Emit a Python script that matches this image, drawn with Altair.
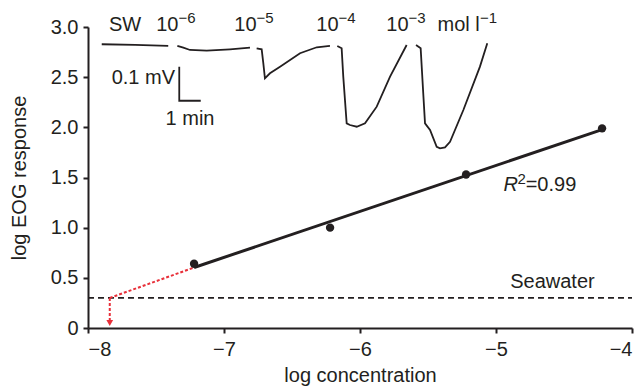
import altair as alt
import pandas as pd
import numpy as np

# ---- data ----
log_conc = [-7.22, -6.22, -5.22, -4.22]
log_eog = [0.64, 1.00, 1.53, 1.99]
seawater_level = 0.3
threshold_log_conc = -7.84

# EOG trace inset, drawn in chart coordinates, 5 segments
trace_seg = [1, 1, 1,
             2, 2, 2, 2, 2, 2,
             3, 3, 3, 3, 3, 3, 3, 3, 3,
             4, 4, 4, 4, 4, 4, 4, 4, 4, 4,
             5, 5, 5, 5, 5, 5, 5, 5, 5, 5, 5, 5]
trace_x = [-7.899, -7.654, -7.410,
           -7.343, -7.299, -7.250, -7.127, -6.956, -6.809,
           -6.760, -6.723, -6.711, -6.699, -6.662, -6.588, -6.441, -6.318, -6.221,
           -6.167, -6.135, -6.123, -6.098, -6.074, -6.024, -5.963, -5.877, -5.779, -5.657,
           -5.588, -5.554, -5.535, -5.522, -5.485, -5.436, -5.412, -5.375, -5.338, -5.240, -5.118, -5.064]
trace_y = [2.828, 2.821, 2.811,
           2.811, 2.794, 2.771, 2.764, 2.778, 2.794,
           2.788, 2.778, 2.639, 2.489, 2.539, 2.605, 2.739, 2.798, 2.811,
           2.811, 2.788, 2.505, 2.040, 2.023, 2.006, 2.040, 2.206, 2.505, 2.821,
           2.821, 2.788, 2.339, 2.040, 1.973, 1.806, 1.790, 1.800, 1.856, 2.173, 2.605, 2.838]

# scale bar (0.1 mV vertical, 1 min horizontal)
bar_x = [-7.329, -7.329, -7.171]
bar_y = [2.605, 2.265, 2.265]

# concentration labels above the trace
base_texts = ["10", "10", "10", "10"]
sup_texts = ["\u22126", "\u22125", "\u22124", "\u22123"]
label_join_x = [-7.335, -6.761, -6.158, -5.643]
label_base_y = 2.964
label_sup_y = 3.044

FONT = "Liberation Sans"
INK = "#231f20"
RED = "#e8303a"
FS = 20
FS_SUP = 15

# ---- derived tables ----
slope, intercept = np.polyfit(log_conc, log_eog, 1)
x0, x1 = min(log_conc), max(log_conc)

pts = pd.DataFrame({"x": log_conc, "y": log_eog})
fit = pd.DataFrame({"x": [x0, x1], "y": [slope * x0 + intercept, slope * x1 + intercept]})
ext = pd.DataFrame({"x": [threshold_log_conc, x0], "y": [seawater_level, slope * x0 + intercept]})
vert = pd.DataFrame({"x": [threshold_log_conc, threshold_log_conc], "y": [seawater_level, 0.06]})
arrow = pd.DataFrame({"x": [threshold_log_conc], "y": [0.05]})
sw = pd.DataFrame({"x": [-8, -4], "y": [seawater_level, seawater_level]})
trace = pd.DataFrame({"seg": trace_seg, "x": trace_x, "y": trace_y, "i": range(len(trace_x))})
bar = pd.DataFrame({"x": bar_x, "y": bar_y, "i": range(3)})
base_df = pd.DataFrame({"t": base_texts, "x": label_join_x, "y": [label_base_y] * 4})
sup_df = pd.DataFrame({"t": sup_texts, "x": label_join_x, "y": [label_sup_y] * 4})

xs = alt.Scale(domain=[-8, -4], nice=False, zero=False)
ys = alt.Scale(domain=[0, 3], nice=False)

X = alt.X("x:Q", scale=xs, title="log concentration",
          axis=alt.Axis(values=[-8, -7, -6, -5, -4], format="d", grid=False, domainColor=INK,
                        domainWidth=2, tickColor=INK, tickWidth=2, tickSize=5,
                        labelFont=FONT, labelFontSize=FS, labelColor=INK, labelPadding=6,
                        titleFont=FONT, titleFontSize=FS, titleFontWeight="normal",
                        titleColor=INK, titlePadding=6))
Y = alt.Y("y:Q", scale=ys, title="log EOG response",
          axis=alt.Axis(values=[0, 0.5, 1, 1.5, 2, 2.5, 3], grid=False, domainColor=INK,
                        domainWidth=2, tickColor=INK, tickWidth=2, tickSize=5,
                        labelExpr="datum.value == 0 ? '0' : format(datum.value, '.1f')",
                        labelFont=FONT, labelFontSize=FS, labelColor=INK, labelPadding=5,
                        titleFont=FONT, titleFontSize=FS, titleFontWeight="normal",
                        titleColor=INK, titlePadding=21))

bx = alt.X("x:Q", scale=xs)
by = alt.Y("y:Q", scale=ys)


def txt(x, y, t, align="center", size=FS, italic=False, baseline="alphabetic"):
    kw = dict(font=FONT, fontSize=size, color=INK, align=align, baseline=baseline)
    if italic:
        kw["fontStyle"] = "italic"
    return alt.Chart(pd.DataFrame({"x": [x], "y": [y], "t": [t]})).mark_text(**kw).encode(
        x=bx, y=by, text="t:N")


sw_line = alt.Chart(sw).mark_line(color=INK, strokeWidth=1.6, strokeDash=[6, 4]).encode(x=X, y=Y)
fit_line = alt.Chart(fit).mark_line(color=INK, strokeWidth=3).encode(x=bx, y=by)
ext_line = alt.Chart(ext).mark_line(color=RED, strokeWidth=2, strokeDash=[3, 2]).encode(x=bx, y=by)
vert_line = alt.Chart(vert).mark_line(color=RED, strokeWidth=2, strokeDash=[3, 2]).encode(x=bx, y=by)
arrow_pt = alt.Chart(arrow).mark_point(shape="triangle-down", filled=True, color=RED,
                                       size=45, opacity=1).encode(x=bx, y=by)
points = alt.Chart(pts).mark_circle(color=INK, size=70, opacity=1).encode(x=bx, y=by)
trace_line = alt.Chart(trace).mark_line(color=INK, strokeWidth=1.8).encode(
    x=bx, y=by, detail="seg:N", order="i:Q")
bar_line = alt.Chart(bar).mark_line(color=INK, strokeWidth=1.8).encode(x=bx, y=by, order="i:Q")
base_lab = alt.Chart(base_df).mark_text(font=FONT, fontSize=FS, color=INK, align="right",
                                        baseline="alphabetic").encode(x=bx, y=by, text="t:N")
sup_lab = alt.Chart(sup_df).mark_text(font=FONT, fontSize=FS_SUP, color=INK, align="left",
                                      baseline="alphabetic").encode(x=bx, y=by, text="t:N")

layers = [sw_line, ext_line, vert_line, arrow_pt, fit_line, points, trace_line, bar_line,
          base_lab, sup_lab,
          txt(-7.728, label_base_y, "SW"),
          txt(-5.430, label_base_y, "mol l", align="left"),
          txt(-5.118, label_sup_y, "\u22121", align="left", size=FS_SUP),
          txt(-7.360, 2.432, "0.1 mV", align="right"),
          txt(-7.25, 2.024, "1 min"),
          txt(-4.585, 0.403, "Seawater"),
          txt(-4.945, 1.364, "R", align="left", italic=True),
          txt(-4.842, 1.434, "2", align="left", size=FS_SUP),
          txt(-4.782, 1.364, "=0.99", align="left")]

chart = alt.layer(*layers).properties(
    width=544, height=301,
    autosize=alt.AutoSizeParams(type="none"),
    padding={"left": 88, "top": 27, "right": 11, "bottom": 61},
    background="white",
).configure_view(stroke=None)

chart.save("out.html", embed_options={"renderer": "svg", "actions": False})
